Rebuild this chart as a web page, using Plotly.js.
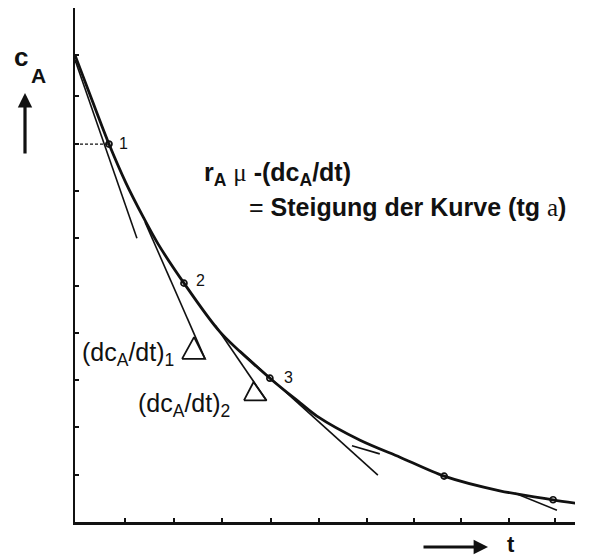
<!DOCTYPE html>
<html>
<head>
<meta charset="utf-8">
<script src="https://cdn.plot.ly/plotly-3.0.1.min.js"></script>
<style>html,body{margin:0;padding:0;background:#fff;}#chart{width:595px;height:559px;}</style>
</head>
<body>
<div id="chart"></div>
<script>
// Concentration curve c_A over time t (tick units)
const tCurve = [0, 0.354, 0.708, 1.06, 1.42, 1.73, 2.27, 3.02, 4.06, 4.69, 5.04, 5.94, 6.77, 7.69, 8.85, 9.96, 10.42];
const cCurve = [9.87, 8.92, 7.99, 7.17, 6.45, 5.88, 5.05, 4.02, 3.04, 2.52, 2.24, 1.73, 1.37, 0.97, 0.66, 0.47, 0.40];

// Marked points 1..5 on the curve
const pointT = [0.708, 2.27, 4.06, 7.69, 9.96];
const pointC = [7.99, 5.05, 3.04, 0.97, 0.47];
const pointLabels = ["1", "2", "3", "", ""];

// Tangent lines (start / end)
const tan1T = [0, 1.29],    tan1C = [9.77, 6.00];
const tan2T = [1.46, 2.71], tan2C = [6.34, 3.45];
const tan3T = [2.92, 3.99], tan3C = [4.16, 2.57];
const tan4T = [3.44, 6.31], tan4C = [3.62, 0.99];
const tan5T = [5.77, 6.35], tan5C = [1.61, 1.44];
const tan6T = [9.17, 10.04], tan6C = [0.61, 0.25];

// Angle markers at the end of tangents
const tri1T = [2.23, 2.48, 2.71, 2.23], tri1C = [3.45, 3.91, 3.45, 3.45];
const tri2T = [3.52, 3.72, 3.99, 3.52], tri2C = [2.57, 2.96, 2.57, 2.57];

// Dashed guide to point 1
const guideT = [0, 0.708], guideC = [7.99, 7.99];

// Axis tick positions
const tTicks = [1.04, 2.06, 3.06, 4.08, 5.08, 6.08, 7.06, 8.04, 9.04, 10.0];
const cTicks = [1, 2, 3, 4, 5, 6, 7, 8, 9, 9.87];

const K = '#111';
function seg(x, y, w) {
  return {x: x, y: y, mode: 'lines', line: {color: K, width: w}, hoverinfo: 'skip', cliponaxis: false};
}

const traces = [
  {x: guideT, y: guideC, mode: 'lines', line: {color: K, width: 1.3, dash: '3px,2px'}, cliponaxis: false},
  seg(tan1T, tan1C, 1.6),
  seg(tan2T, tan2C, 1.6),
  seg(tan3T, tan3C, 1.6),
  seg(tan4T, tan4C, 1.6),
  seg(tan5T, tan5C, 1.6),
  seg(tan6T, tan6C, 1.6),
  seg(tri1T, tri1C, 1.8),
  seg(tri2T, tri2C, 1.8),
  {x: tCurve, y: cCurve, mode: 'lines', line: {color: K, width: 2.8, shape: 'spline', smoothing: 0.8}, cliponaxis: false},
  {x: pointT, y: pointC, mode: 'markers', marker: {symbol: 'circle-open', size: 6, color: K, line: {width: 1.7, color: K}}, cliponaxis: false}
];

const FONT = 'Liberation Sans, Arial, sans-serif';
const SERIF = 'Liberation Serif';
const annotations = [];

// number labels next to points
const labOffT = [0.17, 0.2, 0.25];
const labOffC = [0.02, 0.06, 0.02];
for (let i = 0; i < 3; i++) {
  annotations.push({x: pointT[i] + labOffT[i], y: pointC[i] + labOffC[i], xref: 'x', yref: 'y', text: pointLabels[i],
    showarrow: false, xanchor: 'left', yanchor: 'middle', font: {family: FONT, size: 16, color: K}});
}

annotations.push(
  {x: 2.65, y: 7.36, xref: 'x', yref: 'y', xanchor: 'left', yanchor: 'middle', showarrow: false,
   text: "<b>r<sub>A</sub></b> <span style='font-family:" + SERIF + "'>μ</span> <b>-(dc<sub>A</sub>/dt)</b>",
   font: {family: FONT, size: 25, color: K}},
  {x: 3.58, y: 6.65, xref: 'x', yref: 'y', xanchor: 'left', yanchor: 'middle', showarrow: false,
   text: "= <b>Steigung der Kurve (tg</b> <span style='font-family:" + SERIF + "'>a</span><b>)</b>",
   font: {family: FONT, size: 25, color: K}},
  {x: 0.1, y: 3.55, xref: 'x', yref: 'y', xanchor: 'left', yanchor: 'middle', showarrow: false,
   text: "(dc<sub>A</sub>/dt)<sub>1</sub>", font: {family: FONT, size: 25, color: K}},
  {x: 1.28, y: 2.47, xref: 'x', yref: 'y', xanchor: 'left', yanchor: 'middle', showarrow: false,
   text: "(dc<sub>A</sub>/dt)<sub>2</sub>", font: {family: FONT, size: 25, color: K}},
  // axis labels and arrows outside the plot area (paper coordinates)
  {x: -0.108, y: 0.905, xref: 'paper', yref: 'paper', xanchor: 'center', yanchor: 'middle', showarrow: false,
   text: "<b>c</b>", font: {family: FONT, size: 26, color: K}},
  {x: -0.074, y: 0.868, xref: 'paper', yref: 'paper', xanchor: 'center', yanchor: 'middle', showarrow: false,
   text: "<b>A</b>", font: {family: FONT, size: 21, color: K}},
  {x: -0.1, y: 0.8346, xref: 'paper', yref: 'paper', ax: 0, ay: 62, text: '', showarrow: true,
   arrowhead: 2, arrowsize: 0.9, arrowwidth: 3.2, arrowcolor: K},
  {x: 0.826, y: -0.0486, xref: 'paper', yref: 'paper', ax: -66, ay: 0, text: '', showarrow: true,
   arrowhead: 2, arrowsize: 0.9, arrowwidth: 3.2, arrowcolor: K},
  {x: 0.872, y: -0.044, xref: 'paper', yref: 'paper', xanchor: 'center', yanchor: 'middle', showarrow: false,
   text: "<b>t</b>", font: {family: FONT, size: 22, color: K}}
);

const layout = {
  width: 595, height: 559,
  margin: {l: 75, r: 20, t: 8, b: 37},
  paper_bgcolor: '#fff', plot_bgcolor: '#fff',
  showlegend: false,
  xaxis: {range: [0, 500 / 48], showgrid: false, zeroline: false, showline: true, linecolor: K, linewidth: 2.5,
          ticks: 'inside', ticklen: 4, tickwidth: 2, tickcolor: K, tickvals: tTicks, showticklabels: false, fixedrange: true},
  yaxis: {range: [0, 514 / 47.3], showgrid: false, zeroline: false, showline: true, linecolor: K, linewidth: 2.2,
          ticks: 'inside', ticklen: 4, tickwidth: 2, tickcolor: K, tickvals: cTicks, showticklabels: false, fixedrange: true},
  annotations: annotations
};

Plotly.newPlot('chart', traces, layout, {staticPlot: true, displayModeBar: false});
</script>
</body>
</html>
